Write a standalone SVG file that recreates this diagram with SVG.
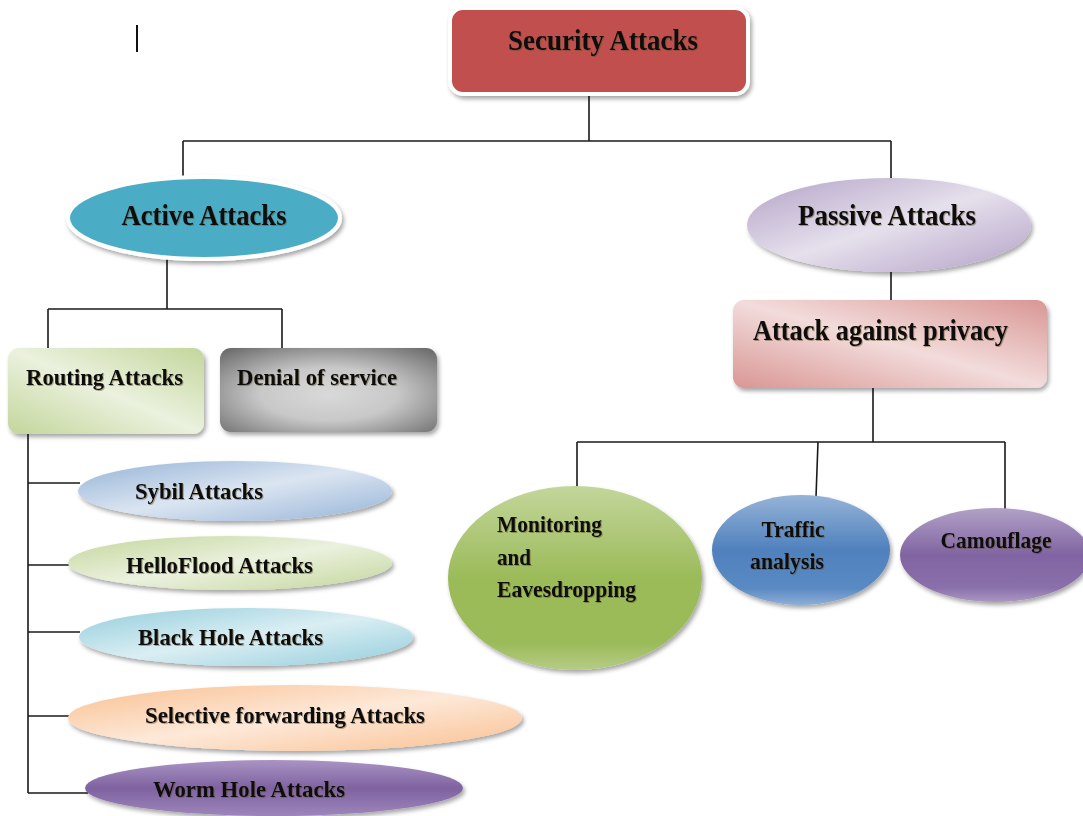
<svg xmlns="http://www.w3.org/2000/svg" width="1083" height="816" viewBox="0 0 1083 816">
<style>
.t{font-family:"Liberation Serif","Times New Roman",serif;font-weight:bold;fill:#0d0d0d;filter:url(#ts)}
.big{font-size:29px}
.mid{font-size:24px}
.sm{font-size:22.5px}
.ln{fill:none;stroke:#1a1a1a;stroke-width:1.6}
.node{filter:url(#ds)}
</style>
<defs>
<filter id="ds" x="-10%" y="-20%" width="125%" height="150%">
<feDropShadow dx="2" dy="3" stdDeviation="2" flood-color="#000" flood-opacity="0.35"/>
</filter>
<filter id="ts" x="-5%" y="-20%" width="110%" height="140%">
<feDropShadow dx="1" dy="1" stdDeviation="0.6" flood-color="#5a4a20" flood-opacity="0.45"/>
</filter>
<linearGradient id="gPassive" x1="0" y1="0" x2="1" y2="1">
<stop offset="0" stop-color="#b3a2c7"/><stop offset="0.5" stop-color="#e6e0ec"/><stop offset="1" stop-color="#b3a2c7"/>
</linearGradient>
<linearGradient id="gPriv" x1="1" y1="0" x2="0" y2="1">
<stop offset="0" stop-color="#d99694"/><stop offset="0.5" stop-color="#f2dcdb"/><stop offset="1" stop-color="#d99694"/>
</linearGradient>
<linearGradient id="gGreenL" x1="1" y1="0" x2="0" y2="1">
<stop offset="0" stop-color="#c3d69b"/><stop offset="0.5" stop-color="#ebf1de"/><stop offset="1" stop-color="#c3d69b"/>
</linearGradient>
<radialGradient id="gGray" cx="0.5" cy="0.55" r="0.7">
<stop offset="0" stop-color="#d9d9d9"/><stop offset="0.45" stop-color="#c8c8c8"/><stop offset="1" stop-color="#6e6e6e"/>
</radialGradient>
<linearGradient id="gSybil" x1="0" y1="0" x2="1" y2="1">
<stop offset="0" stop-color="#95b3d7"/><stop offset="0.5" stop-color="#dbe5f1"/><stop offset="1" stop-color="#95b3d7"/>
</linearGradient>
<linearGradient id="gHello" x1="0" y1="0" x2="1" y2="1">
<stop offset="0" stop-color="#c3d69b"/><stop offset="0.5" stop-color="#ebf1de"/><stop offset="1" stop-color="#c3d69b"/>
</linearGradient>
<linearGradient id="gBlack" x1="0" y1="0" x2="1" y2="1">
<stop offset="0" stop-color="#92cddc"/><stop offset="0.5" stop-color="#daeef3"/><stop offset="1" stop-color="#92cddc"/>
</linearGradient>
<linearGradient id="gSel" x1="0" y1="0" x2="1" y2="1">
<stop offset="0" stop-color="#fabf8f"/><stop offset="0.5" stop-color="#fde9d9"/><stop offset="1" stop-color="#fabf8f"/>
</linearGradient>
<linearGradient id="gWorm" x1="0" y1="0" x2="0" y2="1">
<stop offset="0" stop-color="#a994c4"/><stop offset="0.5" stop-color="#7f62a0"/><stop offset="1" stop-color="#9d86bb"/>
</linearGradient>
<linearGradient id="gMon" x1="0" y1="0" x2="0" y2="1">
<stop offset="0" stop-color="#c3d69b"/><stop offset="0.5" stop-color="#9bbb59"/><stop offset="0.85" stop-color="#9bbb59"/><stop offset="1" stop-color="#b5cc85"/>
</linearGradient>
<linearGradient id="gTraf" x1="0" y1="0" x2="0" y2="1">
<stop offset="0" stop-color="#95b3d7"/><stop offset="0.5" stop-color="#4f81bd"/><stop offset="0.85" stop-color="#5a8ac3"/><stop offset="1" stop-color="#8eaed6"/>
</linearGradient>
<linearGradient id="gCam" x1="0" y1="0" x2="0" y2="1">
<stop offset="0" stop-color="#b2a1c7"/><stop offset="0.5" stop-color="#8064a2"/><stop offset="0.85" stop-color="#8a70aa"/><stop offset="1" stop-color="#ab98c4"/>
</linearGradient>
</defs>
<rect width="1083" height="816" fill="#fff"/>
<line x1="137" y1="25" x2="137" y2="52" stroke="#111" stroke-width="2"/>
<g id="connectors">
<path class="ln" d="M589 94 V141 M183 141 H891 M183 141 V177 M891 141 V179"/>
<path class="ln" d="M167 259 V309 M48 309 H282 M48 309 V348 M282 309 V348"/>
<path class="ln" d="M28 434 V793 M28 483 H80 M28 565 H70 M28 632 H80 M28 716 H70 M28 793 H88"/>
<path class="ln" d="M891 272 V301 M873 388 V442 M577 442 H1005 M577 442 V487 M818 442 L816 497 M1005 442 V512"/>
</g>
<g id="security" class="node">
<rect x="450" y="8" width="298" height="86" rx="13" fill="#c0504d" stroke="#fff" stroke-width="4"/>
<text class="t big" x="603" y="50" text-anchor="middle" textLength="190" lengthAdjust="spacingAndGlyphs">Security Attacks</text>
</g>
<g id="active" class="node">
<ellipse cx="204" cy="218" rx="136" ry="41" fill="#4bacc6" stroke="#fff" stroke-width="4"/>
<text class="t big" x="204" y="225" text-anchor="middle" textLength="165" lengthAdjust="spacingAndGlyphs">Active Attacks</text>
</g>
<g id="passive" class="node">
<ellipse cx="889" cy="225" rx="142" ry="47" fill="url(#gPassive)"/>
<text class="t big" x="887" y="225" text-anchor="middle" textLength="178" lengthAdjust="spacingAndGlyphs">Passive Attacks</text>
</g>
<g id="privacy" class="node">
<rect x="733" y="300" width="314" height="88" rx="11" fill="url(#gPriv)"/>
<text class="t big" x="753" y="340" textLength="255" lengthAdjust="spacingAndGlyphs">Attack against privacy</text>
</g>
<g id="routing" class="node">
<rect x="8" y="348" width="196" height="86" rx="11" fill="url(#gGreenL)"/>
<text class="t mid" x="26" y="385" textLength="157" lengthAdjust="spacingAndGlyphs">Routing Attacks</text>
</g>
<g id="dos" class="node">
<rect x="220" y="348" width="217" height="84" rx="11" fill="url(#gGray)"/>
<text class="t mid" x="237" y="385" textLength="160" lengthAdjust="spacingAndGlyphs">Denial of service</text>
</g>
<g id="sybil" class="node">
<ellipse cx="235" cy="491" rx="157" ry="30" fill="url(#gSybil)"/>
<text class="t sm" x="135" y="499" textLength="128" lengthAdjust="spacingAndGlyphs">Sybil Attacks</text>
</g>
<g id="helloflood" class="node">
<ellipse cx="230" cy="563" rx="162" ry="27" fill="url(#gHello)"/>
<text class="t sm" x="126" y="573" textLength="187" lengthAdjust="spacingAndGlyphs">HelloFlood  Attacks</text>
</g>
<g id="blackhole" class="node">
<ellipse cx="246" cy="637" rx="167" ry="29" fill="url(#gBlack)"/>
<text class="t sm" x="138" y="645" textLength="185" lengthAdjust="spacingAndGlyphs">Black Hole Attacks</text>
</g>
<g id="selective" class="node">
<ellipse cx="295" cy="718" rx="227" ry="33" fill="url(#gSel)"/>
<text class="t sm" x="145" y="723" textLength="280" lengthAdjust="spacingAndGlyphs">Selective  forwarding Attacks</text>
</g>
<g id="wormhole" class="node">
<ellipse cx="274" cy="788" rx="189" ry="28" fill="url(#gWorm)"/>
<text class="t sm" x="153" y="797" textLength="192" lengthAdjust="spacingAndGlyphs">Worm Hole Attacks</text>
</g>
<g id="monitoring" class="node">
<ellipse cx="575" cy="578" rx="127" ry="92" fill="url(#gMon)"/>
<text class="t sm" x="497" y="532" textLength="105" lengthAdjust="spacingAndGlyphs">Monitoring</text>
<text class="t sm" x="497" y="565" textLength="34" lengthAdjust="spacingAndGlyphs">and</text>
<text class="t sm" x="497" y="597" textLength="139" lengthAdjust="spacingAndGlyphs">Eavesdropping</text>
</g>
<g id="traffic" class="node">
<ellipse cx="801" cy="550" rx="89" ry="55" fill="url(#gTraf)"/>
<text class="t sm" x="793" y="537" text-anchor="middle" textLength="63" lengthAdjust="spacingAndGlyphs">Traffic</text>
<text class="t sm" x="787" y="569" text-anchor="middle" textLength="74" lengthAdjust="spacingAndGlyphs">analysis</text>
</g>
<g id="camouflage" class="node">
<ellipse cx="995" cy="555" rx="95" ry="47" fill="url(#gCam)"/>
<text class="t sm" x="996" y="548" text-anchor="middle" textLength="111" lengthAdjust="spacingAndGlyphs">Camouflage</text>
</g>
</svg>
